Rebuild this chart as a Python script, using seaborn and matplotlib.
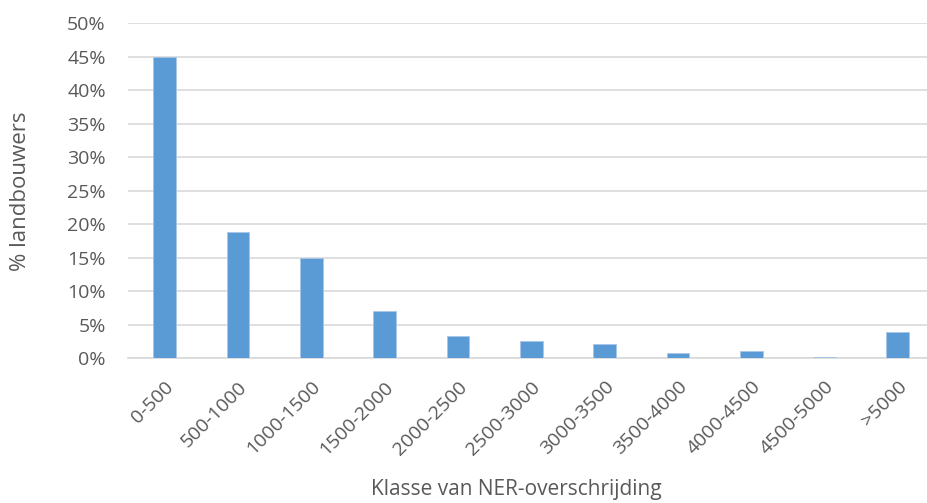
import matplotlib
matplotlib.use("Agg")
import matplotlib.pyplot as plt
import seaborn as sns
import pandas as pd
from matplotlib.ticker import PercentFormatter, MultipleLocator

categories = ["0-500", "500-1000", "1000-1500", "1500-2000", "2000-2500", "2500-3000",
              "3000-3500", "3500-4000", "4000-4500", "4500-5000", ">5000"]
values = [0.45, 0.188, 0.149, 0.070, 0.034, 0.026, 0.021, 0.008, 0.011, 0.002, 0.039]

df = pd.DataFrame({"klasse": categories, "pct": values})

sns.set_style("white")
plt.rcParams['font.family'] = ['Open Sans', 'DejaVu Sans']

W, H = 927, 503
fig = plt.figure(figsize=(W / 100, H / 100), dpi=100)
ax = fig.add_axes([128 / W, (H - 358.3) / H, (934.5 - 128) / W, 335 / H])

sns.barplot(data=df, x="klasse", y="pct", color="#5B9BD5", saturation=1, width=0.31,
            edgecolor="#a8c7e8", linewidth=0.6, ax=ax, zorder=3)

ax.set_ylim(0, 0.5)
ax.set_xlim(-0.5, len(categories) - 0.5)
ax.yaxis.set_major_locator(MultipleLocator(0.05))
ax.yaxis.set_major_formatter(PercentFormatter(1.0, decimals=0))
ax.grid(axis="y", color="#d9d9d9", linewidth=1.2, zorder=0)
ax.set_axisbelow(True)
for s in ["top", "right", "left"]:
    ax.spines[s].set_visible(False)
ax.spines["bottom"].set_color("#d9d9d9")
ax.spines["bottom"].set_linewidth(1.2)
ax.tick_params(axis="both", length=0, colors="#595959", labelsize=14)
ax.tick_params(axis="y", pad=16)
plt.setp(ax.get_xticklabels(), rotation=45, ha="right", rotation_mode="anchor")
ax.tick_params(axis="x", pad=14)

ax.set_ylabel("% landbouwers", fontsize=16, color="#595959")
ax.yaxis.set_label_coords(21 / W, (H - 191) / H, transform=fig.transFigure)
ax.set_xlabel("Klasse van NER-overschrijding", fontsize=15, color="#595959")
ax.xaxis.set_label_coords(516 / W, (H - 490) / H, transform=fig.transFigure)
ax.xaxis.label.set_va("center")
ax.yaxis.label.set_va("center")

fig.savefig("out.png", dpi=100)
